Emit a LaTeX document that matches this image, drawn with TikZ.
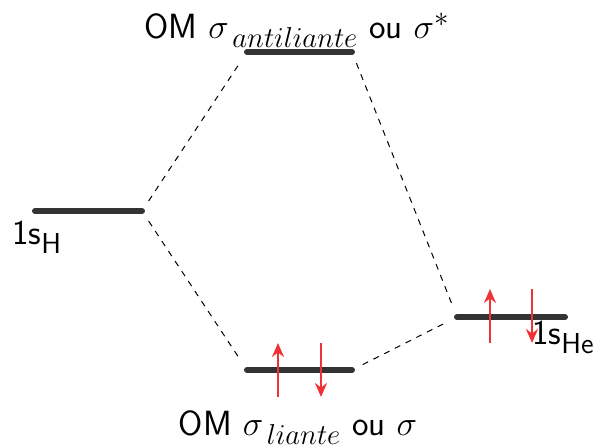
\documentclass[tikz,border=0pt]{standalone}
\usepackage{xcolor}
\definecolor{omgray}{RGB}{51,51,51}
\definecolor{omred}{RGB}{240,50,55}
\usetikzlibrary{arrows.meta,positioning}
\DeclareMathSizes{17.5}{17.5}{15}{12}

\begin{document}
\begin{tikzpicture}[x=0.5pt, y=-0.5pt,
    level/.style={line width=3pt, omgray, line cap=round},
    corr/.style={dashed, line width=0.5pt, black, shorten <=6pt, shorten >=6pt},
    spin/.style={-{Stealth[length=7pt, width=6pt]}, line width=1.4pt, omred},
    lab/.style={font=\fontsize{17.5}{21}\selectfont\sffamily, inner sep=0pt}]
  \useasboundingbox (0,0) rectangle (595,448);

  % energy levels
  \coordinate (HL) at (35,211);  \coordinate (HR) at (142,211);
  \coordinate (AL) at (247,52);  \coordinate (AR) at (352,52);
  \coordinate (BL) at (247,370); \coordinate (BR) at (352,370);
  \coordinate (HeL) at (457,317); \coordinate (HeR) at (565,317);
  \draw[level] (HL) -- (HR);
  \draw[level] (AL) -- (AR);
  \draw[level] (BL) -- (BR);
  \draw[level] (HeL) -- (HeR);

  % correlation lines
  \draw[corr] (HR) -- (AL);
  \draw[corr] (HR) -- (BL);
  \draw[corr] (AR) -- (HeL);
  \draw[corr] (BR) -- (HeL);

  % electrons
  \draw[spin] ([shift={(31,27)}]BL) -- ++(0,-54);
  \draw[spin] ([shift={(74,-27)}]BL) -- ++(0,54);
  \draw[spin] ([shift={(33,26)}]HeL) -- ++(0,-54);
  \draw[spin] ([shift={(75,-28)}]HeL) -- ++(0,54);

  % labels
  \node[lab, anchor=base] (labAnti) at (297,39) {OM $\sigma_{\mkern3mu antiliante}$ ou $\sigma^*$};
  \node[lab, anchor=base] (labLiante) at (298,436) {OM $\sigma_{\mkern3mu liante}$ ou $\sigma$};
  \node[lab, anchor=base west] (labH) at (12,245) {1s$_\mathsf{H}$};
  \node[lab, anchor=base west] (labHe) at (532,345) {1s$_\mathsf{He}$};
\end{tikzpicture}
\end{document}
